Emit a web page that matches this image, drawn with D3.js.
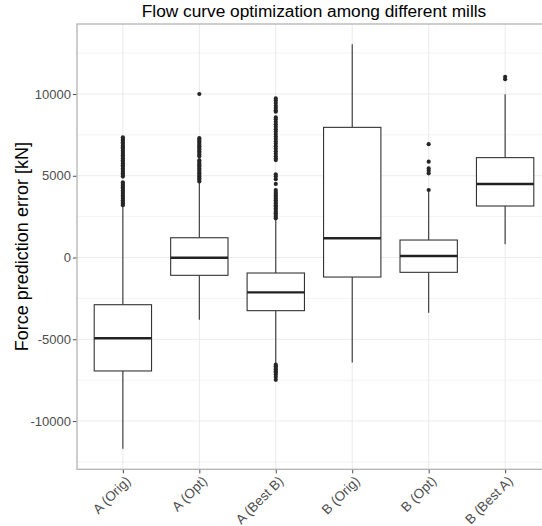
<!DOCTYPE html>
<html>
<head>
<meta charset="utf-8">
<script src="https://cdn.jsdelivr.net/npm/d3@7"></script>
<style>
  body { margin: 0; background: #fff; }
  text { font-family: "Liberation Sans", Arial, sans-serif; }
</style>
</head>
<body>
<svg id="chart" width="542" height="526"></svg>
<script>
// boxplot stats (kN)
const categories = ["A (Orig)", "A (Opt)", "A (Best B)", "B (Orig)", "B (Opt)", "B (Best A)"];
const whiskerLow  = [-11686, -3800, -6470, -6413, -3375,  808];
const q1          = [ -6937, -1088, -3250, -1193,  -905, 3150];
const medians     = [ -4940,   -10, -2130,  1175,    92, 4498];
const q3          = [ -2885,  1210,  -947,  7960,  1070, 6108];
const whiskerHigh = [  3150,  4550,  2350, 13040,  4000, 9988];

const outliers = [
  [3200, 3300, 3400, 3500, 3600, 3700, 3800, 3900, 4000, 4100, 4200, 4300, 4400, 4500, 4600,
   4950, 5050, 5150, 5250, 5350, 5450, 5550, 5650, 5750, 5850, 5950, 6050, 6150, 6250, 6350,
   6450, 6550, 6650, 6750, 6850, 6950, 7050, 7150, 7250, 7350],
  [4650, 4750, 4850, 4950, 5050, 5150, 5250, 5350, 5450, 5550, 5650, 5750, 5850, 5950,
   6200, 6300, 6400, 6500, 6600, 6700, 6800, 6900, 7000, 7100, 7200, 7300, 10000],
  [2400, 2500, 2600, 2700, 2800, 2900, 3000, 3100, 3200, 3300, 3400, 3500, 3600, 3700, 3800,
   3900, 4000, 4130, 4500, 4790, 4950, 5090, 5960, 6050, 6200, 6350, 6500, 6650, 6800, 6950,
   7100, 7250, 7400, 7550, 7700, 7850, 8000, 8150, 8300, 8450, 8570, 8920, 9000, 9150, 9280,
   9450, 9600, 9730,
   -6550, -6650, -6750, -6850, -6950, -7050, -7150, -7300, -7480],
  [],
  [4130, 5150, 5300, 5450, 5860, 6930],
  [10900, 11050]
];

const yTicks = [-10000, -5000, 0, 5000, 10000];
const yMinor = [-12500, -7500, -2500, 2500, 7500, 12500];

const title = "Flow curve optimization among different mills";
const yTitle = "Force prediction error [kN]";

const svg = d3.select("#chart");
const panel = {left: 77, right: 551, top: 24, bottom: 469.3};

const x = d3.scalePoint()
  .domain(categories)
  .range([panel.left, panel.right])
  .padding(0.6);
const boxW = x.step() * 0.75;

const y = d3.scaleLinear()
  .domain([-12950, 14280])
  .range([panel.bottom, panel.top]);

const grid = svg.append("g");
grid.selectAll(".minor").data(yMinor).enter().append("line")
  .attr("x1", panel.left).attr("x2", panel.right)
  .attr("y1", d => y(d)).attr("y2", d => y(d))
  .attr("stroke", "#ebebeb").attr("stroke-width", 0.6);
grid.selectAll(".major").data(yTicks).enter().append("line")
  .attr("x1", panel.left).attr("x2", panel.right)
  .attr("y1", d => y(d)).attr("y2", d => y(d))
  .attr("stroke", "#ebebeb").attr("stroke-width", 1.1);
grid.selectAll(".vmajor").data(categories).enter().append("line")
  .attr("x1", d => x(d)).attr("x2", d => x(d))
  .attr("y1", panel.top).attr("y2", panel.bottom)
  .attr("stroke", "#ebebeb").attr("stroke-width", 1.1);

// boxes
const boxes = svg.append("g").selectAll("g")
  .data(categories)
  .enter().append("g");

boxes.append("line")
  .attr("x1", d => x(d)).attr("x2", d => x(d))
  .attr("y1", (d, i) => y(whiskerHigh[i])).attr("y2", (d, i) => y(q3[i]))
  .attr("stroke", "#333").attr("stroke-width", 1.1);
boxes.append("line")
  .attr("x1", d => x(d)).attr("x2", d => x(d))
  .attr("y1", (d, i) => y(q1[i])).attr("y2", (d, i) => y(whiskerLow[i]))
  .attr("stroke", "#333").attr("stroke-width", 1.1);
boxes.append("rect")
  .attr("x", d => x(d) - boxW / 2)
  .attr("width", boxW)
  .attr("y", (d, i) => y(q3[i]))
  .attr("height", (d, i) => y(q1[i]) - y(q3[i]))
  .attr("fill", "#fff").attr("stroke", "#333").attr("stroke-width", 1.1);
boxes.append("line")
  .attr("x1", d => x(d) - boxW / 2).attr("x2", d => x(d) + boxW / 2)
  .attr("y1", (d, i) => y(medians[i])).attr("y2", (d, i) => y(medians[i]))
  .attr("stroke", "#222").attr("stroke-width", 2.4);

boxes.selectAll("circle")
  .data((d, i) => outliers[i].map(v => ({cat: d, v: v})))
  .enter().append("circle")
  .attr("cx", p => x(p.cat))
  .attr("cy", p => y(p.v))
  .attr("r", 2.1)
  .attr("fill", "#262626");

// panel border
svg.append("rect")
  .attr("x", panel.left).attr("y", panel.top)
  .attr("width", panel.right - panel.left)
  .attr("height", panel.bottom - panel.top)
  .attr("fill", "none").attr("stroke", "#b3b3b3").attr("stroke-width", 1.3);

// axes
const yAxis = svg.append("g")
  .attr("transform", `translate(${panel.left - 0.6},0)`)
  .call(d3.axisLeft(y).tickValues(yTicks).tickSize(3.5).tickPadding(2)
    .tickFormat(d => String(d)));
yAxis.select(".domain").remove();
yAxis.selectAll("line").attr("stroke", "#4d4d4d");
yAxis.selectAll("text")
  .attr("fill", "#4d4d4d")
  .style("font-size", "13px");

const xAxis = svg.append("g")
  .attr("transform", `translate(0,${panel.bottom + 0.6})`)
  .call(d3.axisBottom(x).tickSize(3.5).tickPadding(2));
xAxis.select(".domain").remove();
xAxis.selectAll("line").attr("stroke", "#4d4d4d");
xAxis.selectAll("text")
  .attr("fill", "#4d4d4d")
  .style("font-size", "13.5px")
  .attr("text-anchor", "end")
  .attr("dy", null)
  .attr("y", 0)
  .attr("transform", "translate(8,12) rotate(-45)");

// titles
svg.append("text")
  .attr("x", (panel.left + panel.right) / 2)
  .attr("y", 17)
  .attr("text-anchor", "middle")
  .style("font-size", "17.3px")
  .attr("fill", "#000")
  .text(title);

svg.append("text")
  .attr("transform", `translate(28,${(panel.top + panel.bottom) / 2}) rotate(-90)`)
  .attr("text-anchor", "middle")
  .style("font-size", "18px")
  .attr("fill", "#000")
  .text(yTitle);
</script>
</body>
</html>
